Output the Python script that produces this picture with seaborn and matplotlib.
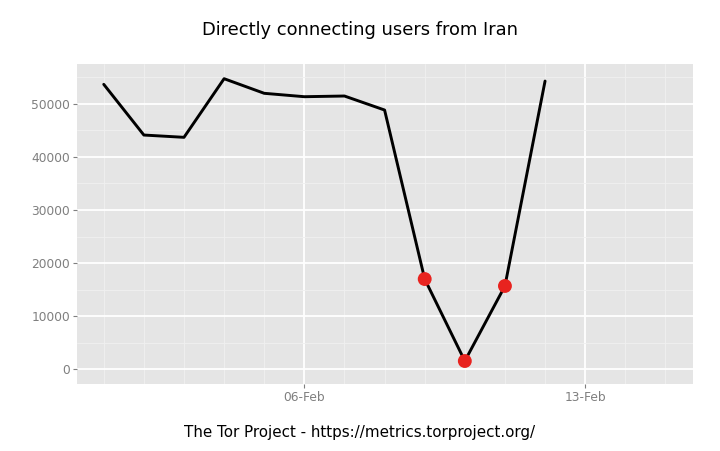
import matplotlib
matplotlib.use("Agg")
import matplotlib.pyplot as plt
import matplotlib.dates as mdates
import numpy as np
import pandas as pd
import seaborn as sns

# daily directly connecting users from Iran, Feb 2012
dates = pd.date_range("2012-02-01", "2012-02-12", freq="D")
users = [53670, 44120, 43690, 54730, 51980, 51340,
         51470, 48830, 17000, 1560, 15690, 54290]
# days flagged as possible censorship events
flagged_dates = pd.to_datetime(["2012-02-09", "2012-02-10", "2012-02-11"])
flagged_users = [17000, 1560, 15690]

df = pd.DataFrame({"date": dates, "users": users})
flags = pd.DataFrame({"date": flagged_dates, "users": flagged_users})

sns.set_theme(style="darkgrid", rc={
    "axes.facecolor": "#E5E5E5",
    "grid.color": "white",
    "axes.edgecolor": "#E5E5E5",
})
plt.rcParams["font.family"] = ["DejaVu Sans"]

fig = plt.figure(figsize=(7.2, 4.51), dpi=100)
ax = fig.add_axes([77 / 720, 67 / 451, 616 / 720, 320 / 451])

sns.lineplot(data=df, x="date", y="users", color="black", linewidth=2.1, ax=ax)
sns.scatterplot(data=flags, x="date", y="users", color="#E8231F", s=100,
                edgecolor="none", ax=ax, zorder=3)

ax.set_xlim(pd.Timestamp("2012-01-31 08:00"), pd.Timestamp("2012-02-15 16:30"))
ax.set_ylim(-2770, 57500)

ax.xaxis.set_major_locator(mdates.DayLocator(bymonthday=[6, 13]))
ax.xaxis.set_major_formatter(mdates.DateFormatter("%d-%b"))
ax.xaxis.set_minor_locator(mdates.DayLocator())
ax.set_yticks([0, 10000, 20000, 30000, 40000, 50000])
ax.set_yticks(np.arange(5000, 57500, 10000), minor=True)

ax.grid(which="major", color="white", linewidth=1.3)
ax.grid(which="minor", color="#F0F0F0", linewidth=0.6)

ax.tick_params(axis="both", which="major", colors="#7F7F7F", labelsize=8.8,
               length=3, width=0.8, bottom=True, left=True, pad=2)
ax.tick_params(axis="both", which="minor", length=0)
ax.set_xlabel("")
ax.set_ylabel("")
for sp in ax.spines.values():
    sp.set_visible(False)

fig.text(0.5, 1 - 30 / 451, "Directly connecting users from Iran",
         ha="center", va="center", fontsize=12.9, color="black")
fig.text(0.5, 1 - 432 / 451, "The Tor Project - https://metrics.torproject.org/",
         ha="center", va="center", fontsize=10.9, color="black")

fig.savefig("out.png", dpi=100)
